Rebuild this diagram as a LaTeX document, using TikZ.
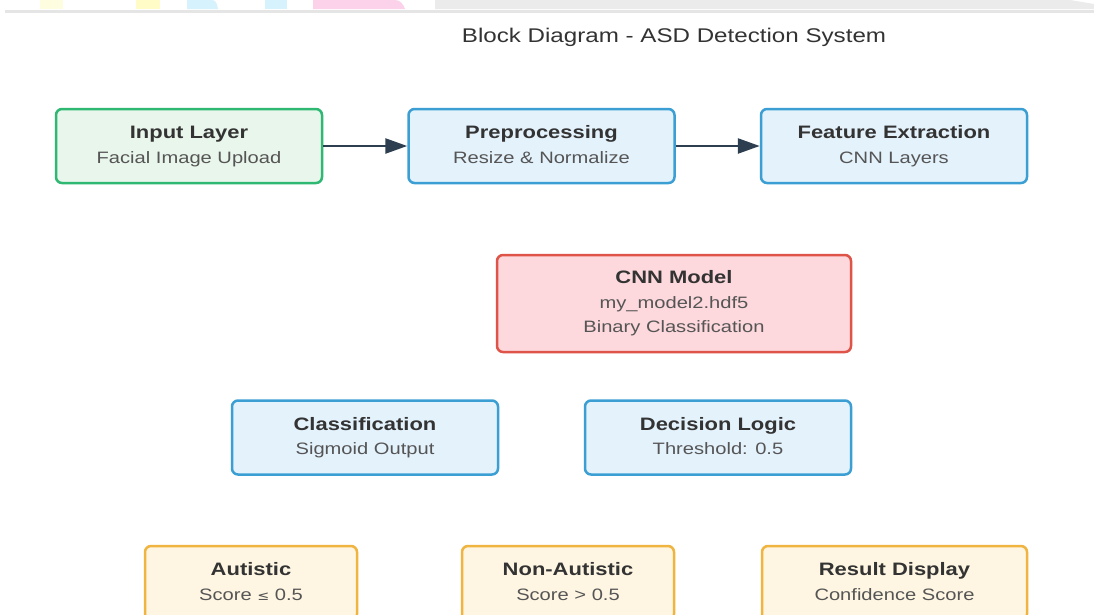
\documentclass[tikz,border=0pt]{standalone}
\usepackage{fontspec}
\setmainfont{Liberation Sans}[FakeStretch=1.22]
\newfontfamily\symfont{DejaVu Sans}[FakeStretch=1.1]
\usepackage{xcolor}
\usetikzlibrary{arrows.meta}
\definecolor{inkdark}{HTML}{2C3E50}
\definecolor{inktext}{HTML}{333333}
\definecolor{inksub}{HTML}{555555}
\definecolor{grnfill}{HTML}{E9F6EC}
\definecolor{grnline}{HTML}{2EB872}
\definecolor{blufill}{HTML}{E4F2FC}
\definecolor{bluline}{HTML}{3C9FD4}
\definecolor{redfill}{HTML}{FDD8DC}
\definecolor{redline}{HTML}{DE5448}
\definecolor{ylwfill}{HTML}{FEF6E2}
\definecolor{ylwline}{HTML}{F0B440}
\begin{document}
\begin{tikzpicture}[x=1pt,y=-1pt]%
  \tikzstyle{blk}=[rectangle,rounded corners=6pt,line width=2.5pt,align=center,
    text=inktext,minimum width=266pt,minimum height=74pt,inner sep=0pt,
    font=\fontsize{18}{24.5}\selectfont\bfseries]
  \tikzstyle{inbox}=[blk,fill=grnfill,draw=grnline]
  \tikzstyle{procbox}=[blk,fill=blufill,draw=bluline]
  \tikzstyle{modelbox}=[blk,fill=redfill,draw=redline,minimum width=354pt,minimum height=97pt]
  \tikzstyle{outbox}=[blk,fill=ylwfill,draw=ylwline]
  \tikzstyle{flow}=[draw=inkdark,line width=2.5pt,-{Triangle[length=22pt,width=15pt]}]
  \newcommand{\subline}[1]{\strut\\{\fontsize{16.5}{24.5}\selectfont\mdseries\color{inksub}\strut#1}}
  \useasboundingbox (0,0) rectangle (1094,614);
  \clip (0,0) rectangle (1094,614);
  \fill[white] (0,0) rectangle (1094,614);
  \fill[yellow!12] (40,0) rectangle (63,9);
  \fill[yellow!22] (136,0) rectangle (160,9);
  \fill[cyan!16] (187,0) -- (212,0) to[out=0,in=100] (218,9) -- (187,9) -- cycle;
  \fill[cyan!16] (265,0) rectangle (287,9);
  \fill[magenta!18] (313,0) -- (395,0) to[out=0,in=110] (405,9) -- (313,9) -- cycle;
  \fill[black!8] (435,0) -- (1070,0) -- (1094,4) -- (1094,9) -- (435,9) -- cycle;
  \draw[black!10,line width=3pt] (5,11) -- (1094,11);
  \node(title)[text=inktext,font=\fontsize{19.8}{21}\selectfont] at (674,37)
    {Block Diagram - ASD Detection System};
  \node(inp)[inbox] at (189,146) {Input Layer\subline{Facial Image Upload}};
  \node(pre)[procbox] at (541.5,146) {Preprocessing\subline{Resize \& Normalize}};
  \node(feat)[procbox] at (894,146) {Feature Extraction\subline{CNN Layers}};
  \node(cnn)[modelbox] at (674,303.5)
    {CNN Model\subline{my\_model2.hdf5}\subline{Binary Classification}};
  \node(cls)[procbox] at (365,437.5) {Classification\subline{Sigmoid Output}};
  \node(dec)[procbox] at (718,437.5) {Decision Logic\subline{Threshold: 0.5}};
  \node(aut)[outbox,minimum width=212pt] at (251,583)
    {Autistic\subline{Score {\symfont\fontsize{13}{24.5}\selectfont ≤} 0.5}};
  \node(non)[outbox,minimum width=212pt] at (568,583) {Non-Autistic\subline{Score > 0.5}};
  \node(res)[outbox,minimum width=265pt] at (894.5,583) {Result Display\subline{Confidence Score}};
  \draw[flow] (inp) -- (pre);
  \draw[flow] (pre) -- (feat);
\end{tikzpicture}
\end{document}
